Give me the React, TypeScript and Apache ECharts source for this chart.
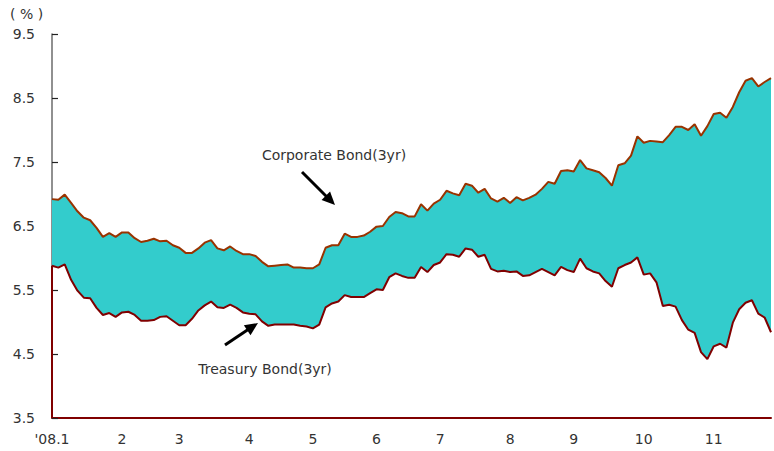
import React, { useEffect, useRef } from "react";
import * as echarts from "echarts";

// Daily-ish samples (every ~2 trading days), Jan 2008 – late Nov 2008
const corporate = [
  6.92, 6.91, 6.99, 6.86, 6.73, 6.63, 6.59, 6.47, 6.33, 6.39,
  6.33, 6.40, 6.40, 6.31, 6.25, 6.27, 6.30, 6.26, 6.27, 6.20,
  6.16, 6.08, 6.08, 6.15, 6.24, 6.28, 6.15, 6.12, 6.18, 6.11,
  6.06, 6.06, 6.03, 5.94, 5.87, 5.88, 5.89, 5.90, 5.85, 5.85,
  5.84, 5.84, 5.90, 6.16, 6.20, 6.20, 6.38, 6.33, 6.33, 6.35,
  6.41, 6.49, 6.50, 6.64, 6.72, 6.70, 6.65, 6.65, 6.84, 6.74,
  6.85, 6.91, 7.05, 7.01, 6.98, 7.16, 7.13, 7.02, 7.08, 6.93,
  6.88, 6.94, 6.86, 6.95, 6.90, 6.94, 6.99, 7.08, 7.19, 7.16,
  7.36, 7.37, 7.35, 7.53, 7.40, 7.37, 7.34, 7.25, 7.13, 7.45,
  7.48, 7.60, 7.90, 7.80, 7.83, 7.82, 7.81, 7.92, 8.05, 8.05,
  8.00, 8.09, 7.91, 8.06, 8.25, 8.27, 8.19, 8.36, 8.59, 8.77,
  8.81, 8.68, 8.75, 8.81,
];

const treasury = [
  5.88, 5.85, 5.90, 5.66, 5.49, 5.38, 5.37, 5.22, 5.11, 5.14,
  5.08, 5.15, 5.16, 5.11, 5.02, 5.02, 5.03, 5.08, 5.09, 5.02,
  4.95, 4.95, 5.05, 5.18, 5.26, 5.32, 5.23, 5.22, 5.27, 5.22,
  5.15, 5.13, 5.12, 5.01, 4.94, 4.96, 4.96, 4.96, 4.96, 4.94,
  4.93, 4.90, 4.96, 5.23, 5.29, 5.32, 5.42, 5.39, 5.39, 5.39,
  5.45, 5.51, 5.50, 5.70, 5.76, 5.72, 5.69, 5.69, 5.86, 5.78,
  5.89, 5.93, 6.06, 6.05, 6.02, 6.15, 6.13, 6.02, 6.05, 5.83,
  5.79, 5.80, 5.78, 5.79, 5.72, 5.73, 5.78, 5.83, 5.78, 5.73,
  5.86, 5.81, 5.78, 5.99, 5.84, 5.79, 5.76, 5.64, 5.55, 5.84,
  5.89, 5.93, 6.01, 5.74, 5.76, 5.62, 5.25, 5.27, 5.24, 5.03,
  4.88, 4.83, 4.53, 4.42, 4.62, 4.66, 4.60, 4.99, 5.20, 5.30,
  5.34, 5.13, 5.07, 4.84,
];

// index of the first sample of each month, and its label
const monthStarts = [0, 11, 20, 31, 41, 51, 61, 72, 82, 93, 104];
const monthLabels = ["'08.1", "2", "3", "4", "5", "6", "7", "8", "9", "10", "11"];

const yMin = 3.5;
const yMax = 9.5;
const yStep = 1;

const FONT = "DejaVu Sans";

function arrow(x1: number, y1: number, x2: number, y2: number) {
  const dx = x2 - x1;
  const dy = y2 - y1;
  const len = Math.sqrt(dx * dx + dy * dy);
  const ux = dx / len;
  const uy = dy / len;
  const headLen = 13;
  const half = 6;
  const bx = x2 - ux * headLen;
  const by = y2 - uy * headLen;
  const px = -uy;
  const py = ux;
  return [
    {
      type: "line",
      shape: { x1, y1, x2: bx + ux * 2, y2: by + uy * 2 },
      style: { stroke: "#000", lineWidth: 3 },
      silent: true,
    },
    {
      type: "polygon",
      shape: {
        points: [
          [x2, y2],
          [bx + px * half, by + py * half],
          [bx - px * half, by - py * half],
        ],
      },
      style: { fill: "#000" },
      silent: true,
    },
  ];
}

export default function App() {
  const ref = useRef<HTMLDivElement>(null);

  useEffect(() => {
    if (!ref.current) return;
    const chart = echarts.init(ref.current, null, { renderer: "svg" });

    const categories = corporate.map((_, i) => {
      const k = monthStarts.indexOf(i);
      return k >= 0 ? monthLabels[k] : "";
    });
    const spread = corporate.map((c, i) => +(c - treasury[i]).toFixed(3));

    chart.setOption({
      animation: false,
      backgroundColor: "#ffffff",
      grid: { left: 52, right: 0, top: 34, bottom: 33, containLabel: false },
      xAxis: {
        type: "category",
        data: categories,
        boundaryGap: false,
        axisLine: { show: true, lineStyle: { color: "#800000", width: 2 } },
        axisTick: { show: false },
        axisLabel: {
          interval: 0,
          color: "#333333",
          fontSize: 14,
          fontFamily: FONT,
          margin: 14,
        },
        splitLine: { show: false },
      },
      yAxis: {
        type: "value",
        min: yMin,
        max: yMax,
        interval: yStep,
        axisLine: { show: true, lineStyle: { color: "#6b6b6b", width: 1.5 } },
        axisTick: { show: true, inside: true, length: 6, lineStyle: { color: "#222", width: 1.2 } },
        axisLabel: {
          color: "#333333",
          fontSize: 14,
          fontFamily: FONT,
          margin: 17,
          formatter: (v: number) => v.toFixed(1),
        },
        splitLine: { show: false },
      },
      series: [
        {
          name: "Treasury Bond(3yr)",
          type: "line",
          stack: "bond",
          data: treasury,
          symbol: "none",
          z: 4,
          lineStyle: { color: "#800000", width: 2 },
          markLine: {
            silent: true,
            symbol: ["none", "none"],
            label: { show: false },
            lineStyle: { color: "#800000", width: 2, type: "solid" },
            data: [[{ coord: [0, yMin] }, { coord: [0, treasury[0]] }]],
          },
        },
        {
          name: "Corporate Bond(3yr)",
          type: "line",
          stack: "bond",
          data: spread,
          symbol: "none",
          z: 3,
          lineStyle: { color: "#993300", width: 2 },
          areaStyle: { color: "#33CCCC", opacity: 1 },
        },
      ],
      graphic: [
        {
          type: "text",
          left: 10,
          top: 7,
          style: { text: "( % )", fontSize: 14, fontFamily: FONT, fill: "#333333" },
        },
        {
          type: "text",
          x: 334,
          y: 155,
          style: {
            text: "Corporate Bond(3yr)",
            fontSize: 14,
            fontFamily: FONT,
            fill: "#333333",
            align: "center",
            verticalAlign: "middle",
          },
        },
        {
          type: "text",
          x: 265,
          y: 369,
          style: {
            text: "Treasury Bond(3yr)",
            fontSize: 14,
            fontFamily: FONT,
            fill: "#333333",
            align: "center",
            verticalAlign: "middle",
          },
        },
        ...arrow(302, 172, 335, 205),
        ...arrow(225, 345, 258, 323),
      ],
    });

    return () => {
      chart.dispose();
    };
  }, []);

  return (
    <div
      ref={ref}
      style={{ position: "fixed", left: 0, top: 0, width: 774, height: 451, background: "#fff" }}
    />
  );
}
